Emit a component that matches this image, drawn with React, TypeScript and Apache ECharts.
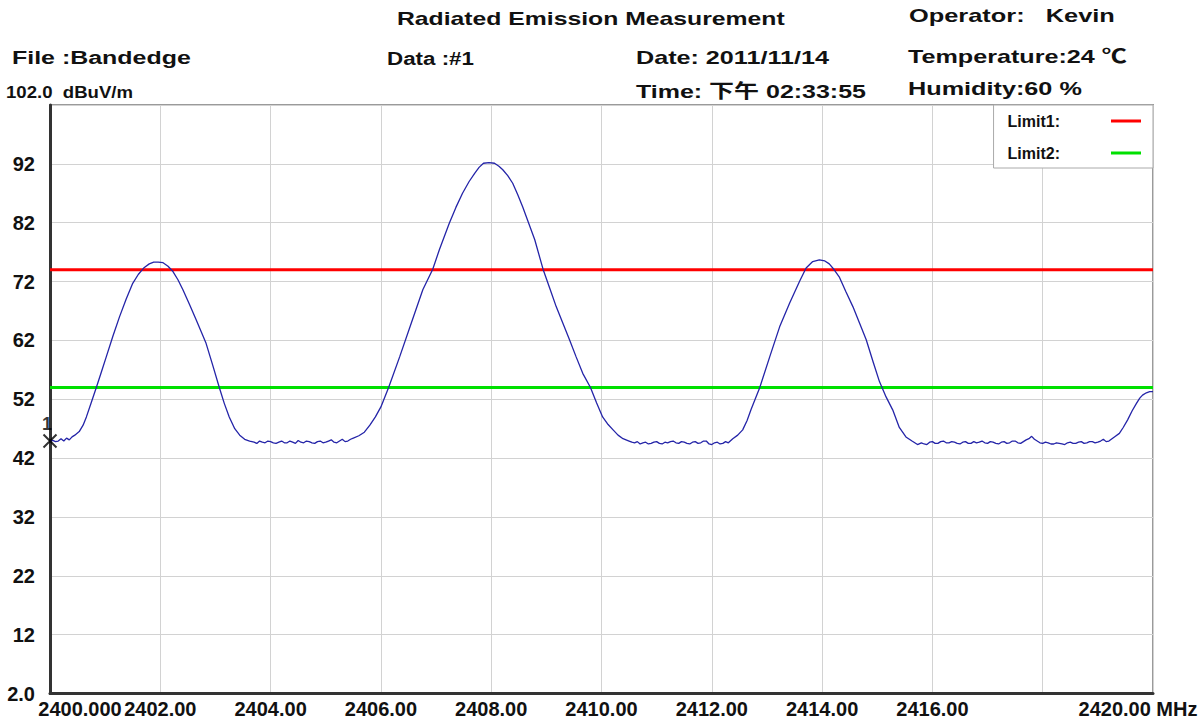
import React, { useEffect, useRef } from "react";
import * as echarts from "echarts";

// ---------- data ----------
const xTicksMHz = [2400, 2402, 2404, 2406, 2408, 2410, 2412, 2414, 2416, 2418, 2420];
const yTicksDb = [2, 12, 22, 32, 42, 52, 62, 72, 82, 92, 102];
const limit1Db = 74;
const limit2Db = 54;
const markerPoint: [number, number] = [2400, 44.9];
const markerName = "1";

// measured trace: [frequency MHz, level dBuV/m]
const trace: [number, number][] = [
  [2400.0, 44.9], [2400.05, 45.0], [2400.1, 44.8], [2400.15, 44.9], [2400.2, 45.3], [2400.25, 44.9],
  [2400.3, 45.4], [2400.35, 45.1], [2400.4, 45.6], [2400.45, 45.9],
  [2400.53, 46.5], [2400.6, 47.6], [2400.66, 49.0], [2400.75, 51.5], [2400.84, 54.0], [2400.93, 56.6],
  [2401.02, 59.2], [2401.14, 62.7], [2401.26, 66.0], [2401.38, 69.0], [2401.5, 71.7], [2401.6, 73.2],
  [2401.71, 74.4], [2401.8, 75.0], [2401.88, 75.3], [2401.96, 75.3], [2402.05, 75.2], [2402.14, 74.6],
  [2402.23, 73.7], [2402.32, 72.3], [2402.41, 70.6], [2402.53, 68.1], [2402.65, 65.5], [2402.74, 63.5],
  [2402.83, 61.5], [2402.95, 57.8], [2403.07, 54.0], [2403.16, 51.3], [2403.25, 49.0], [2403.35, 47.0],
  [2403.44, 45.9], [2403.53, 45.2], [2403.62, 44.9],
  [2403.7, 44.7], [2403.75, 44.5], [2403.8, 44.9], [2403.85, 44.7], [2403.9, 44.6], [2403.95, 44.9],
  [2404.0, 44.8], [2404.05, 44.6], [2404.1, 44.5], [2404.15, 44.7], [2404.2, 44.9], [2404.25, 44.6],
  [2404.3, 44.6], [2404.35, 44.9], [2404.4, 44.7], [2404.45, 44.5], [2404.5, 45.0], [2404.55, 44.7],
  [2404.6, 44.6], [2404.65, 44.9], [2404.7, 44.8], [2404.75, 44.6], [2404.8, 44.5], [2404.85, 44.8],
  [2404.9, 44.9], [2404.95, 44.6], [2405.0, 44.7], [2405.05, 44.9], [2405.1, 45.1], [2405.15, 44.7],
  [2405.2, 44.6], [2405.25, 44.9], [2405.3, 45.2], [2405.35, 44.8], [2405.4, 44.9], [2405.45, 45.2],
  [2405.5, 45.4],
  [2405.6, 45.8], [2405.7, 46.4], [2405.8, 47.6], [2405.9, 49.0], [2406.0, 50.7], [2406.14, 54.0],
  [2406.34, 59.2], [2406.55, 64.9], [2406.76, 70.6], [2406.94, 74.1], [2407.06, 77.4], [2407.24, 81.9],
  [2407.36, 84.6], [2407.48, 87.0], [2407.6, 89.0], [2407.7, 90.4], [2407.78, 91.4], [2407.86, 92.1],
  [2407.96, 92.2], [2408.06, 92.1], [2408.14, 91.6], [2408.21, 91.0], [2408.3, 90.0], [2408.39, 88.7],
  [2408.48, 86.8], [2408.57, 84.7], [2408.68, 81.9], [2408.79, 79.1], [2408.94, 74.1], [2409.06, 70.9],
  [2409.18, 67.7], [2409.3, 64.9], [2409.42, 62.1], [2409.54, 59.2], [2409.66, 56.4], [2409.8, 54.0],
  [2409.91, 51.4], [2410.02, 49.0], [2410.12, 47.7], [2410.21, 46.8], [2410.3, 45.9], [2410.39, 45.3],
  [2410.5, 44.9],
  [2410.55, 44.7], [2410.6, 44.6], [2410.65, 44.8], [2410.7, 44.4], [2410.75, 44.6], [2410.8, 44.7],
  [2410.85, 44.4], [2410.9, 44.5], [2410.95, 44.7], [2411.0, 44.8], [2411.05, 44.5], [2411.1, 44.4],
  [2411.15, 44.7], [2411.2, 44.6], [2411.25, 44.8], [2411.3, 44.9], [2411.35, 44.6], [2411.4, 44.5],
  [2411.45, 44.8], [2411.5, 44.7], [2411.55, 44.5], [2411.6, 44.4], [2411.65, 44.7], [2411.7, 44.8],
  [2411.75, 44.5], [2411.8, 44.6], [2411.85, 44.9], [2411.9, 44.9], [2411.95, 44.4], [2412.0, 44.3],
  [2412.05, 44.6], [2412.1, 44.7], [2412.15, 44.4], [2412.2, 44.5], [2412.25, 44.8], [2412.3, 44.6],
  [2412.38, 45.3], [2412.47, 45.9], [2412.56, 46.8], [2412.64, 48.4], [2412.71, 50.2], [2412.87, 54.0],
  [2413.05, 59.2], [2413.23, 64.3], [2413.41, 68.3], [2413.59, 72.0], [2413.71, 74.3], [2413.83, 75.4],
  [2413.95, 75.7], [2414.05, 75.5], [2414.13, 75.0], [2414.22, 74.0], [2414.31, 72.8], [2414.43, 70.3],
  [2414.56, 67.7], [2414.68, 64.9], [2414.8, 62.1], [2414.93, 58.2], [2415.04, 55.0], [2415.16, 52.4],
  [2415.28, 50.2], [2415.4, 47.2], [2415.52, 45.6], [2415.63, 44.9], [2415.73, 44.3],
  [2415.8, 44.6], [2415.85, 44.4], [2415.9, 44.3], [2415.95, 44.7], [2416.0, 44.8], [2416.05, 44.5],
  [2416.1, 44.5], [2416.15, 44.8], [2416.2, 44.9], [2416.25, 44.6], [2416.3, 44.6], [2416.35, 44.8],
  [2416.4, 44.7], [2416.45, 44.5], [2416.5, 44.4], [2416.55, 44.7], [2416.6, 44.8], [2416.65, 44.5],
  [2416.7, 44.5], [2416.75, 44.8], [2416.8, 44.6], [2416.85, 44.7], [2416.9, 44.9], [2416.95, 44.6],
  [2417.0, 44.5], [2417.05, 44.8], [2417.1, 44.7], [2417.15, 44.5], [2417.2, 44.4], [2417.25, 44.7],
  [2417.3, 44.8], [2417.35, 44.5], [2417.4, 44.6], [2417.45, 44.9], [2417.5, 44.9], [2417.55, 44.6],
  [2417.6, 44.5], [2417.65, 44.8], [2417.7, 45.1], [2417.75, 45.3], [2417.8, 45.7], [2417.85, 45.2],
  [2417.9, 44.9], [2417.95, 44.6], [2418.0, 44.5], [2418.05, 44.7], [2418.1, 44.6], [2418.15, 44.4],
  [2418.2, 44.4], [2418.25, 44.6], [2418.3, 44.5], [2418.35, 44.4], [2418.4, 44.3], [2418.45, 44.6],
  [2418.5, 44.7], [2418.55, 44.5], [2418.6, 44.5], [2418.65, 44.7], [2418.7, 44.8], [2418.75, 44.5],
  [2418.8, 44.6], [2418.85, 44.8], [2418.9, 44.8], [2418.95, 44.6], [2419.0, 44.7], [2419.05, 44.9],
  [2419.1, 45.2], [2419.15, 44.8], [2419.2, 44.9],
  [2419.3, 45.6], [2419.39, 46.2], [2419.46, 47.2], [2419.54, 48.5], [2419.62, 50.0], [2419.7, 51.3],
  [2419.76, 52.2], [2419.81, 52.7], [2419.88, 53.1], [2419.94, 53.3], [2420.0, 53.3],
];

// header texts (text, left, right, centre-y, size, weight)
const headerTexts: [string, number, number, number, number, string][] = [
  ["Radiated Emission Measurement", 397, 785, 19, 19, "bold"],
  ["Operator:   Kevin", 909, 1115, 16, 19, "bold"],
  ["File :Bandedge", 12, 191, 58, 19, "bold"],
  ["Data :#1", 387, 474, 58, 19, "bold"],
  ["Date: 2011/11/14", 636, 829, 58, 19, "bold"],
  ["Temperature:24 ℃", 908, 1127, 57, 19, "bold"],
  ["Time: 下午 02:33:55", 636, 866, 92, 19, "bold"],
  ["Humidity:60 %", 908, 1082, 89, 19, "bold"],
  ["102.0  dBuV/m", 6, 133, 92, 17, "bold"],
];

const FONT = '"Liberation Sans", Arial, "Noto Sans CJK SC", sans-serif';
const TICK_SIZE = 20;

function measure(text: string, size: number, weight: string): number {
  const c = document.createElement("canvas").getContext("2d");
  if (!c) return text.length * size * 0.55;
  c.font = `${weight} ${size}px ${FONT}`;
  return c.measureText(text).width;
}

export default function App() {
  const ref = useRef<HTMLDivElement>(null);

  useEffect(() => {
    document.body.style.margin = "0";
    if (!ref.current) return;
    const chart = echarts.init(ref.current, undefined, { renderer: "svg" });

    const graphics = headerTexts.map(([text, l, r, cy, size, weight]) => {
      const w = measure(text, size, weight);
      return {
        type: "text",
        x: l,
        y: cy,
        scaleX: (r - l) / w,
        scaleY: 1,
        silent: true,
        style: {
          text,
          fontSize: size,
          fontWeight: weight,
          fontFamily: FONT,
          fill: "#111",
          textAlign: "left",
          textVerticalAlign: "middle",
        },
      };
    });

    const tickStyle = { fontSize: TICK_SIZE, fontWeight: "bold", fontFamily: FONT, color: "#111" };

    chart.setOption({
      animation: false,
      backgroundColor: "#fff",
      grid: {
        left: 50,
        right: 51,
        top: 105,
        bottom: 31.5,
        show: true,
        borderColor: "#9a9a9a",
        borderWidth: 2,
        backgroundColor: "#fff",
      },
      legend: {
        data: ["Limit1", "Limit2"],
        orient: "vertical",
        right: 51,
        top: 105,
        align: "right",
        icon: "rect",
        itemWidth: 30,
        itemHeight: 3,
        itemGap: 16,
        padding: [8, 12, 7, 14],
        backgroundColor: "#fff",
        borderColor: "#aaa",
        borderWidth: 1,
        formatter: (name: string) => "{t|" + name + ":}",
        textStyle: {
          fontSize: 16,
          fontWeight: "bold",
          color: "#111",
          fontFamily: FONT,
          rich: {
            t: {
              fontSize: 16,
              fontWeight: "bold",
              color: "#111",
              fontFamily: FONT,
              padding: [0, 46, 0, 0],
            },
          },
        },
      },
      xAxis: {
        type: "value",
        min: xTicksMHz[0],
        max: xTicksMHz[xTicksMHz.length - 1],
        interval: 2,
        axisLine: { show: true, lineStyle: { color: "#333", width: 3 } },
        axisTick: { show: false },
        splitLine: { show: true, lineStyle: { color: "#d2d2d2", width: 1 } },
        axisLabel: {
          margin: 5,
          ...tickStyle,
          showMinLabel: true,
          showMaxLabel: true,
          formatter: (v: number) => {
            if (v === xTicksMHz[0]) return "{lo|" + v.toFixed(3) + "}";
            if (v === xTicksMHz[xTicksMHz.length - 1]) return "{hi|" + v.toFixed(2) + " MHz}";
            if (v === 2418) return "";
            return v.toFixed(2);
          },
          rich: {
            lo: { ...tickStyle, padding: [0, 0, 0, 60] },
            hi: { ...tickStyle, padding: [0, 30, 0, 0] },
          },
        },
      },
      yAxis: {
        type: "value",
        min: yTicksDb[0],
        max: yTicksDb[yTicksDb.length - 1],
        interval: 10,
        axisLine: { show: true, lineStyle: { color: "#333", width: 3 } },
        axisTick: { show: false },
        splitLine: { show: true, lineStyle: { color: "#d2d2d2", width: 1 } },
        axisLabel: {
          margin: 15,
          ...tickStyle,
          formatter: (v: number) => {
            if (v === yTicksDb[0]) return v.toFixed(1);
            if (v === yTicksDb[yTicksDb.length - 1]) return "";
            return String(v);
          },
        },
      },
      graphic: graphics,
      series: [
        {
          name: "Limit1",
          type: "line",
          data: [
            [xTicksMHz[0], limit1Db],
            [xTicksMHz[xTicksMHz.length - 1], limit1Db],
          ],
          symbol: "none",
          color: "#ff0000",
          lineStyle: { color: "#ff0000", width: 3 },
          z: 2,
        },
        {
          name: "Limit2",
          type: "line",
          data: [
            [xTicksMHz[0], limit2Db],
            [xTicksMHz[xTicksMHz.length - 1], limit2Db],
          ],
          symbol: "none",
          color: "#00e000",
          lineStyle: { color: "#00e000", width: 3 },
          z: 2,
        },
        {
          name: "Trace",
          type: "line",
          data: trace,
          symbol: "none",
          color: "#2424a8",
          lineStyle: { color: "#2424a8", width: 1.3 },
          z: 3,
        },
        {
          name: "Marker",
          type: "scatter",
          data: [markerPoint],
          symbol: "path://M0,0L10,10M10,0L0,10",
          symbolSize: 13,
          color: "#111",
          itemStyle: { color: "transparent", borderColor: "#000", borderWidth: 2 },
          clip: false,
          z: 5,
        },
        {
          name: "MarkerLabel",
          type: "scatter",
          data: [markerPoint],
          symbol: "circle",
          symbolSize: 1,
          color: "#111",
          itemStyle: { color: "transparent" },
          clip: false,
          z: 6,
          label: {
            show: true,
            position: "inside",
            offset: [-3, -17],
            formatter: () => markerName,
            fontSize: 18,
            fontWeight: "bold",
            color: "#000",
            fontFamily: FONT,
          },
        },
      ],
    });

    return () => chart.dispose();
  }, []);

  return <div ref={ref} style={{ width: 1204, height: 725 }} />;
}
